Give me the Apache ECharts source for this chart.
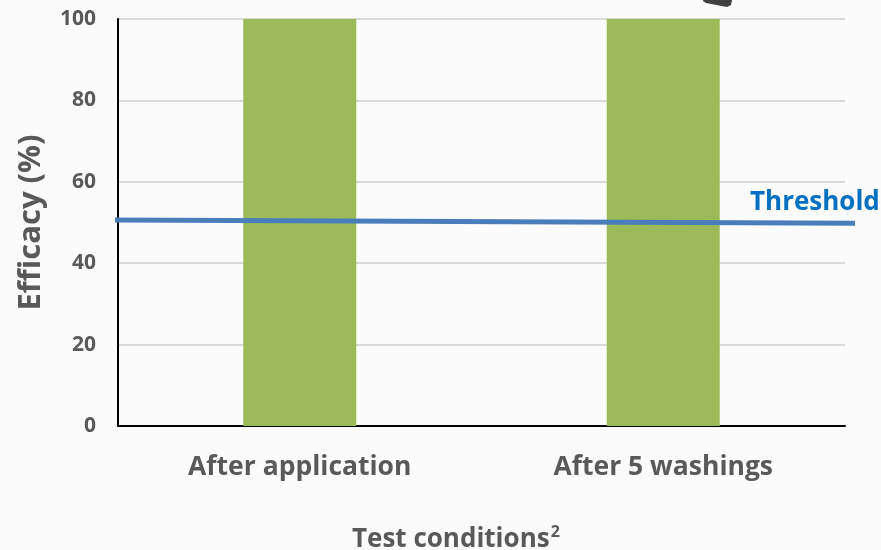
<!DOCTYPE html>
<html><head><meta charset="utf-8">
<script src="https://cdn.jsdelivr.net/npm/echarts@6/dist/echarts.min.js"></script>
<style>html,body{margin:0;padding:0;background:#fbfbfb}#c{width:881px;height:550px}</style>
</head><body><div id="c"></div>
<script>
var categories = ['After application', 'After 5 washings'];
var efficacy = [100, 100];
var thresholdValues = [50.6, 49.8];
var yTicks = [0, 20, 40, 60, 80, 100];

var chart = echarts.init(document.getElementById('c'));
var FONT = 'Open Sans';
chart.setOption({
  backgroundColor: '#fbfbfb',
  animation: false,
  grid: [
    {left: 118, right: 36, top: 19, bottom: 124},
    {left: 115, right: 26, top: 19, bottom: 124}
  ],
  xAxis: [
    {type: 'category', gridIndex: 0, data: categories,
     axisLine: {lineStyle: {color: '#000', width: 2}}, axisTick: {show: false},
     axisLabel: {color: '#595959', fontFamily: FONT, fontWeight: 'bold', fontSize: 26.5, margin: 28}},
    {type: 'value', gridIndex: 1, min: 0, max: 1, show: false}
  ],
  yAxis: [
    {type: 'value', gridIndex: 0, min: 0, max: 100, interval: 20,
     axisLine: {show: true, lineStyle: {color: '#000', width: 2}}, axisTick: {show: false},
     splitLine: {lineStyle: {color: '#d9d9d9', width: 2}},
     axisLabel: {color: '#595959', fontFamily: FONT, fontWeight: 'bold', fontSize: 21, margin: 22},
     name: 'Efficacy (%)', nameLocation: 'middle', nameGap: 71, nameRotate: 90,
     nameTextStyle: {color: '#595959', fontFamily: FONT, fontWeight: 'bold', fontSize: 31}},
    {type: 'value', gridIndex: 1, min: 0, max: 100, show: false}
  ],
  series: [
    {type: 'bar', xAxisIndex: 0, yAxisIndex: 0, data: efficacy, barWidth: 113,
     itemStyle: {color: '#9bbb59'}},
    {type: 'line', xAxisIndex: 1, yAxisIndex: 1, symbol: 'none',
     data: [[0, thresholdValues[0]], [1, thresholdValues[1]]],
     lineStyle: {color: '#4a7ebb', width: 5}}
  ],
  graphic: [
    {type: 'text', left: 750, top: 190,
     style: {text: 'Threshold', fill: '#0070c0', font: 'bold 26px "Open Sans"'}},
    {type: 'text', left: 352, top: 524,
     style: {text: '{a|Test conditions}{s|2}', rich: {
       a: {fill: '#595959', font: 'bold 26px "Open Sans"', verticalAlign: 'bottom'},
       s: {fill: '#595959', font: 'bold 16px "Open Sans"', verticalAlign: 'top', padding: [0,0,13,1]}}}},
    {type: 'polygon', shape: {points: [[703,0],[732,0],[731,5],[727,7],[706,3],[703,1]]},
     style: {fill: '#404040'}}
  ]
});
</script></body></html>
